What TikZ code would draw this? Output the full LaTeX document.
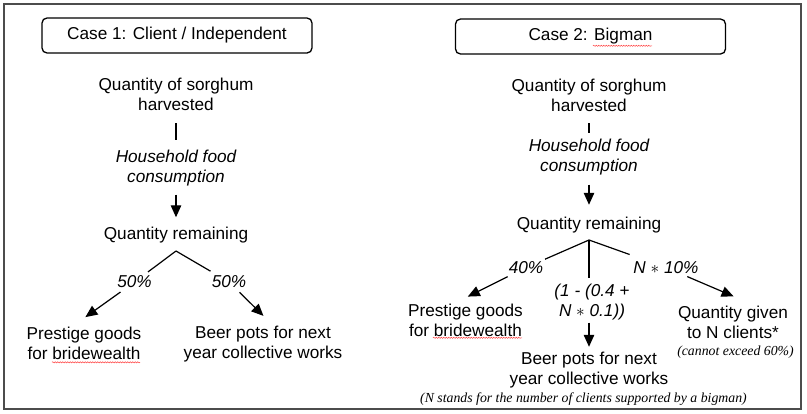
\documentclass[tikz,border=0pt]{standalone}
\usepackage{fontspec}
\setmainfont{Liberation Sans}
\newfontfamily\notefont{Liberation Serif}
\usetikzlibrary{arrows.meta,decorations.pathmorphing}
\begin{document}
\begin{tikzpicture}[x=1pt, y=-1pt,
        label text/.style={align=center, inner sep=2pt, font=\fontsize{17.2}{20}\selectfont},
        italic text/.style={label text, font=\fontsize{17.2}{20}\selectfont\itshape},
        case box/.style={draw, line width=1.3pt, rounded corners=5pt, minimum width=270pt, minimum height=35pt, font=\fontsize{17.2}{20}\selectfont},
        note text/.style={inner sep=1pt, font=\fontsize{13.8}{16}\selectfont\notefont\itshape},
        flow/.style={line width=1.2pt},
        flow arrow/.style={flow, -{Triangle[length=12pt, width=10.5pt]}},
        spell mark/.style={red!75, line width=0.5pt, decorate, decoration={snake, amplitude=0.6pt, segment length=2.5pt}}]
    \useasboundingbox (0,0) rectangle (807,413);
    \draw[line width=1.5pt, black!70] (4,4) rectangle (801,409);

    \node[case box] (case1) at (177,35.5) {Case 1: Client / Independent};
    \node[label text] (harvest1) at (176,94.75) {Quantity of sorghum\\harvested};
    \node[italic text] (food1) at (176,168.5) {Household food\\consumption};
    \node[label text] (remain1) at (176,235.5) {Quantity remaining};
    \coordinate (split1) at (176,251);
    \node[italic text] (share1a) at (134.5,282) {50\%};
    \node[italic text] (share1b) at (229,282) {50\%};
    \node[label text] (goods1) at (84,343.75) {Prestige goods\\for bridewealth};
    \node[label text] (beer1) at (263,344.5) {Beer pots for next\\year collective works};

    \draw[flow, shorten <=10pt, shorten >=8pt] (harvest1) -- (food1);
    \draw[flow arrow, shorten <=6pt, shorten >=8pt] (food1) -- (remain1);
    \draw[flow, shorten >=3pt] (split1) -- (share1a);
    \draw[flow, shorten >=5pt] (split1) -- (share1b);
    \draw[flow arrow, shorten <=3pt, shorten >=14pt] (share1a) -- ([xshift=-10pt]goods1.north);
    \draw[flow arrow, shorten <=3pt, shorten >=12pt] (share1b) -- ([xshift=9pt]beer1.north);

    \node[case box] (case2) at (590.5,36.5) {Case 2: Bigman};
    \node[label text] (harvest2) at (589,95.75) {Quantity of sorghum\\harvested};
    \node[italic text] (food2) at (589,157.5) {Household food\\consumption};
    \node[label text] (remain2) at (589,225.5) {Quantity remaining};
    \coordinate (split2) at (589,240);
    \node[italic text] (share2a) at (526,267.5) {40\%};
    \node[italic text] (share2c) at (666,267.5) {N {$\ast$} 10\%};
    \node[italic text] (share2b) at (592,302.5) {(1 - (0.4 +\\N {$\ast$} 0.1))};
    \node[label text] (goods2) at (465.5,320.75) {Prestige goods\\for bridewealth};
    \node[label text] (clients2) at (733,322.75) {Quantity given\\to N clients*};
    \node[note text] (cap2) at (735.5,352.5) {(cannot exceed 60\%)};
    \node[label text] (beer2) at (589,370.5) {Beer pots for next\\year collective works};
    \node[note text] (legend2) at (583.5,399.5) {(N stands for the number of clients supported by a bigman)};

    \draw[flow, shorten <=9pt, shorten >=4.5pt] (harvest2) -- (food2);
    \draw[flow arrow, shorten <=7pt, shorten >=10.5pt] (food2) -- (remain2);
    \draw[flow] (split2) -- (share2a);
    \draw[flow, shorten >=4.5pt] (split2) -- (split2 |- share2b.north);
    \draw[flow, shorten >=14pt] (split2) -- (share2c);
    \draw[flow arrow, shorten <=2pt, shorten >=12.6pt] (share2a) -- ([xshift=-9pt]goods2.north);
    \draw[flow arrow, shorten >=3.5pt] (split2 |- share2b.south) -- (beer2);
    \draw[flow arrow, shorten <=2pt, shorten >=20pt] (share2c) -- ([xshift=19pt]clients2.north);

    \draw[spell mark] (52,362.3) -- (140,362.3);
    \draw[spell mark] (433,337.8) -- (522,337.8);
    \draw[spell mark] (593,45.8) -- (652,45.8);
\end{tikzpicture}
\end{document}
